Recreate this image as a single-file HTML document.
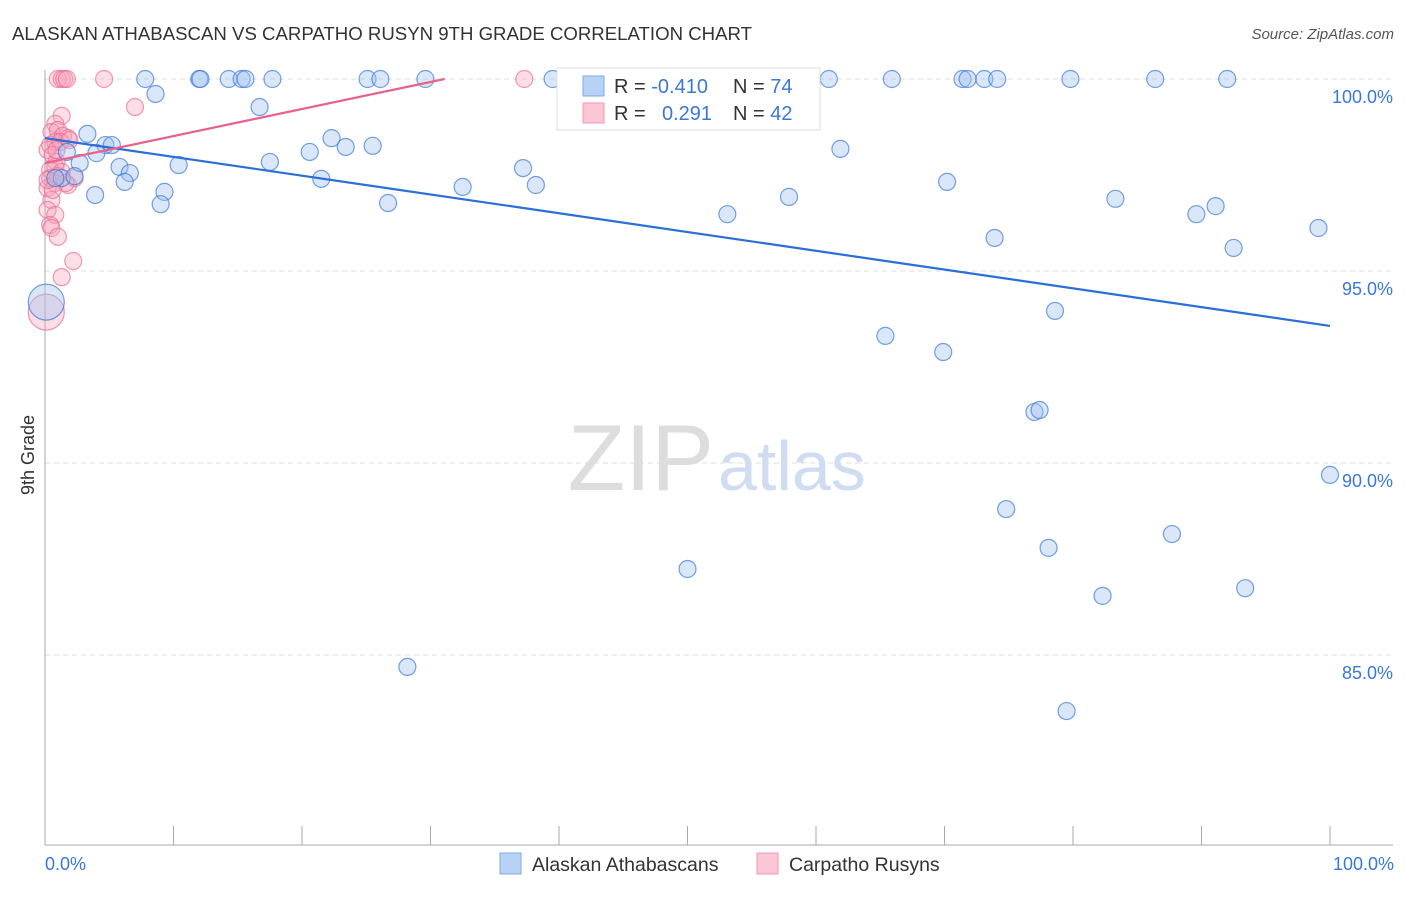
<!DOCTYPE html>
<html><head><meta charset="utf-8"><style>
body{margin:0;background:#fff;font-family:"Liberation Sans",sans-serif}
svg text{font-family:"Liberation Sans",sans-serif}
</style></head><body>
<svg width="1406" height="892" viewBox="0 0 1406 892">
<text x="12" y="40" font-size="18" fill="#333" textLength="740" lengthAdjust="spacingAndGlyphs">ALASKAN ATHABASCAN VS CARPATHO RUSYN 9TH GRADE CORRELATION CHART</text>
<text x="1394" y="39" font-size="15" fill="#555" font-style="italic" text-anchor="end">Source: ZipAtlas.com</text>
<text x="714" y="490" font-size="94" fill="#ddd" text-anchor="end" font-family="Liberation Serif">ZIP</text>
<text x="718" y="490" font-size="70" fill="#cfdcf2">atlas</text>
<g id="grid"></g>
<g id="axes"></g>
<g id="marks"></g>
<text transform="translate(34,455) rotate(-90)" font-size="18" fill="#333" text-anchor="middle">9th Grade</text>
<text x="45" y="870" font-size="18" fill="#3a78d4">0.0%</text>
<text x="1394" y="870" font-size="18" fill="#3a78d4" text-anchor="end">100.0%</text>
<g>
<rect x="557" y="68" width="263" height="62" fill="#fff" stroke="#ddd"/>
<rect x="583" y="76" width="21" height="20" fill="#b7d2f5" stroke="#7fa9e6"/>
<rect x="583" y="103" width="21" height="20" fill="#fbc6d5" stroke="#f09ab4"/>
<text x="614" y="93" font-size="20" fill="#333">R = <tspan fill="#3a78d4">-0.410</tspan><tspan x="733">N = </tspan><tspan fill="#3a78d4">74</tspan></text>
<text x="614" y="120" font-size="20" fill="#333">R = <tspan x="662" fill="#3a78d4">0.291</tspan><tspan x="733">N = </tspan><tspan fill="#3a78d4">42</tspan></text>
</g>
<g>
<rect x="500" y="853" width="21" height="21" fill="#b7d2f5" stroke="#7fa9e6"/>
<text x="532" y="871" font-size="19.5" fill="#333">Alaskan Athabascans</text>
<rect x="757" y="853" width="21" height="21" fill="#fbc6d5" stroke="#f09ab4"/>
<text x="789" y="871" font-size="19.5" fill="#333">Carpatho Rusyns</text>
</g>
</svg>
<script>
const yTicks=[100,95,90,85];
const yTickLabels=["100.0%","95.0%","90.0%","85.0%"];
const xTicks=[0,10,20,30,40,50,60,70,80,90,100];
const blueX=[7.8,12.0,12.1,14.3,15.3,15.6,17.7,25.1,26.1,29.6,39.5,41.2,61.0,65.9,71.4,71.8,73.1,74.1,79.8,86.4,92.0,8.6,16.7,3.3,4.7,5.2,4.0,1.7,2.7,5.8,6.6,10.4,6.2,9.3,9.0,3.9,1.3,2.3,17.5,20.6,22.3,23.4,25.5,21.5,26.7,32.5,37.2,38.2,53.1,57.9,61.9,70.2,73.9,83.3,89.6,91.1,92.5,99.1,78.6,65.4,69.9,77.0,77.4,100,74.8,78.1,87.7,50.0,82.3,93.4,28.2,79.5,0.1,0.8];
const blueY=[100,100,100,100,100,100,100,100,100,100,100,100,100,100,100,100,100,100,100,100,100,99.61,99.27,98.57,98.28,98.28,98.07,98.10,97.81,97.71,97.55,97.76,97.32,97.06,96.74,96.98,97.42,97.47,97.84,98.10,98.46,98.23,98.26,97.40,96.77,97.19,97.68,97.24,96.48,96.93,98.18,97.32,95.86,96.88,96.48,96.69,95.60,96.12,93.96,93.31,92.89,91.33,91.38,89.69,88.80,87.79,88.15,87.24,86.54,86.74,84.69,83.54,94.19,97.42];
const pinkX=[1.0,1.3,1.5,1.7,4.6,37.3,7.0,1.3,0.8,0.5,1.0,1.4,1.8,0.4,0.8,1.2,0.2,0.6,0.9,0.4,0.8,1.3,0.4,0.8,1.8,2.3,0.2,0.5,0.2,0.8,0.4,0.5,1.0,2.2,1.3,0.1,1.0,1.6,1.9,0.9,0.6,0.2];
const pinkY=[100,100,100,100,100,100,99.27,99.04,98.83,98.62,98.67,98.52,98.46,98.28,98.36,98.36,98.15,98.02,97.84,97.63,97.71,97.58,97.42,97.29,97.24,97.42,97.16,96.85,96.59,96.46,96.20,96.12,95.89,95.26,94.84,93.93,97.47,97.29,98.41,98.15,97.11,97.37];
const blueTrendX=[0,100], blueTrendY=[98.46,93.57];
const pinkTrendX=[0,31.1], pinkTrendY=[97.81,100];
const X0=45,X1=1330,Y100=79,PXPER=38.4;
function sx(v){return X0+(X1-X0)*v/100;}
function sy(v){return Y100+(100-v)*PXPER;}
const NS="http://www.w3.org/2000/svg";
function mk(t,a,p){const e=document.createElementNS(NS,t);for(const k in a)e.setAttribute(k,a[k]);p.appendChild(e);return e;}
const grid=document.getElementById('grid'),axes=document.getElementById('axes'),marks=document.getElementById('marks');
yTicks.forEach((t,i)=>{
 const l=mk('line',{x1:45,x2:1393,y1:sy(t),y2:sy(t),stroke:'#ddd','stroke-dasharray':'5,4'},grid);
 
 
 const tx=mk('text',{x:1393,y:sy(t)+24,'font-size':18,fill:'#3a78d4','text-anchor':'end'},grid);
 tx.textContent=yTickLabels[i];
 
 
});
const ya=mk('line',{x1:45,x2:45,y1:70,y2:845,stroke:'#aaa'},axes);


const xa=mk('line',{x1:45,x2:1393,y1:845,y2:845,stroke:'#aaa'},axes);


xTicks.forEach(t=>{
 const l=mk('line',{x1:sx(t),x2:sx(t),y1:826,y2:845,stroke:'#aaa'},axes);
 
 
});
function dots(xs,ys,fill,stroke,name){
 xs.forEach((x,i)=>{
  const big=(x<0.2&&ys[i]<95&&ys[i]>93.5);
  const c=mk('circle',{cx:sx(x),cy:sy(ys[i]),r:big?18:8.5,fill:fill,stroke:stroke,'stroke-width':1.2},marks);
  
  
 });
}
dots(pinkX,pinkY,'rgba(247,160,185,0.35)','rgba(235,110,150,0.7)','rusyn-point');
dots(blueX,blueY,'rgba(160,195,240,0.4)','rgba(60,120,215,0.7)','athabascan-point');
const bl=mk('line',{x1:sx(blueTrendX[0]),y1:sy(blueTrendY[0]),x2:sx(blueTrendX[1]),y2:sy(blueTrendY[1]),stroke:'#2a6fd6','stroke-width':2.2},marks);


const pl=mk('line',{x1:sx(pinkTrendX[0]),y1:sy(pinkTrendY[0]),x2:sx(pinkTrendX[1]),y2:sy(pinkTrendY[1]),stroke:'#e8608c','stroke-width':2.2},marks);


</script>
</body></html>
